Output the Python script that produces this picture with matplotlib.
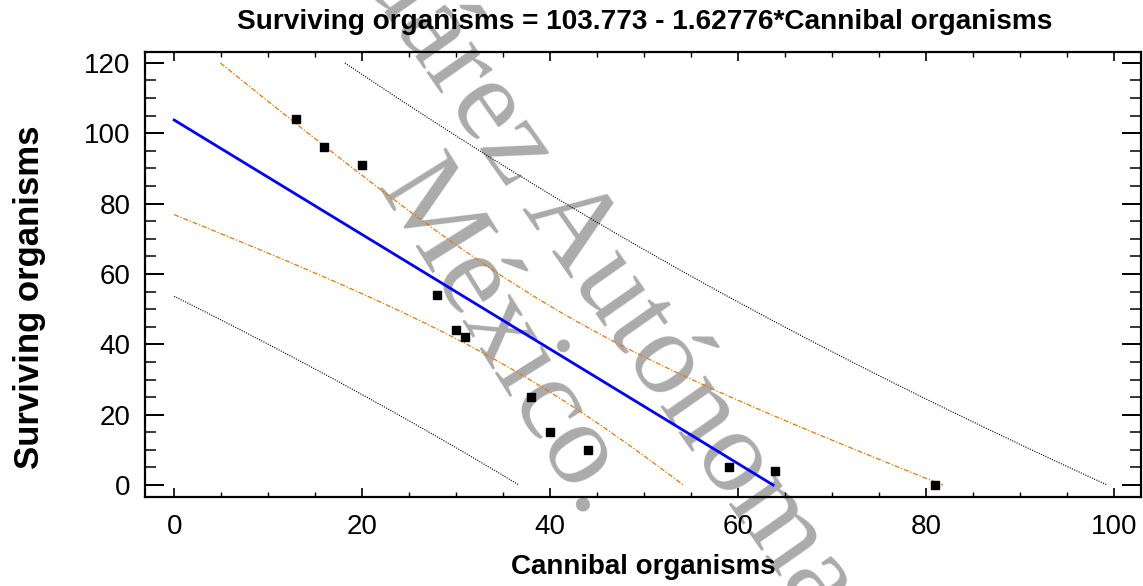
import numpy as np
import matplotlib
matplotlib.use("Agg")
import matplotlib.pyplot as plt
from matplotlib.ticker import MultipleLocator

# ---- data ----
cannibal = [13, 16, 20, 28, 30, 31, 38, 40, 44, 59, 64, 81]
surviving = [104, 96, 91, 54, 44, 42, 25, 15, 10, 5, 4, 0]
title_text = "Surviving organisms = 103.773 - 1.62776*Cannibal organisms"
x_label = "Cannibal organisms"
y_label = "Surviving organisms"
x_ticks = [0, 20, 40, 60, 80, 100]
y_ticks = [0, 20, 40, 60, 80, 100, 120]
t_crit = 2.228139  # t(0.975, df=10)

# ---- regression (simple linear) with 95% confidence and prediction limits ----
xd = np.asarray(cannibal, float)
yd = np.asarray(surviving, float)
n = len(xd)
slope, intercept = np.polyfit(xd, yd, 1)
resid = yd - (intercept + slope * xd)
s = np.sqrt(np.sum(resid ** 2) / (n - 2))
sxx = np.sum((xd - xd.mean()) ** 2)

xg = np.linspace(0, 100, 4001)
fit = intercept + slope * xg
se_m = s * np.sqrt(1.0 / n + (xg - xd.mean()) ** 2 / sxx)
se_p = s * np.sqrt(1.0 + 1.0 / n + (xg - xd.mean()) ** 2 / sxx)


def clip(v):
    v = v.copy()
    v[(v < 0) | (v > 120)] = np.nan
    return v


W, H = 1143, 586
fig = plt.figure(figsize=(W / 100, H / 100), dpi=100)
fig.patch.set_facecolor("white")
ax = fig.add_axes([145 / W, 1 - 497 / H, (1141 - 145) / W, (497 - 52) / H])
ax.set_facecolor("none")

# watermark (behind everything)
wm_kw = dict(family="Liberation Serif", color="#ababab", fontsize=86,
             rotation_mode="anchor", ha="center", va="center", zorder=-5)
fig.text(595 / W, 1 - 264 / H, "Juárez Autónoma", rotation=-55, **wm_kw)
fig.text(504 / W, 1 - 340 / H, "México.", rotation=-58, **wm_kw)

ax.plot(xg, clip(fit), color="#0000ff", lw=2.0, zorder=4)
ax.plot(xg, clip(fit + t_crit * se_m), color="#e87800", lw=0.9,
        linestyle=(0, (4, 1.5, 1, 1.5)), zorder=3)
ax.plot(xg, clip(fit - t_crit * se_m), color="#e87800", lw=0.9,
        linestyle=(0, (4, 1.5, 1, 1.5)), zorder=3)
ax.plot(xg, clip(fit + t_crit * se_p), color="black", lw=0.8,
        linestyle=(0, (1, 1.2)), zorder=3)
ax.plot(xg, clip(fit - t_crit * se_p), color="black", lw=0.8,
        linestyle=(0, (1, 1.2)), zorder=3)
ax.plot(xd, yd, linestyle="none", marker="s", color="black", ms=5.2, zorder=5)

ax.set_xlim(-3.1, 102.9)
ax.set_ylim(-3.4, 123.1)
ax.set_xticks(x_ticks)
ax.set_yticks(y_ticks)
ax.xaxis.set_minor_locator(MultipleLocator(5))
ax.yaxis.set_minor_locator(MultipleLocator(5))

for sp in ax.spines.values():
    sp.set_linewidth(1.6)

ax.tick_params(axis="x", which="major", direction="in", top=True, bottom=True,
               length=6.5, width=1.2, labelsize=20, pad=12)
ax.tick_params(axis="x", which="minor", direction="in", top=True, bottom=True,
               length=3.6, width=1.0)
ax.tick_params(axis="y", which="major", direction="in", left=True, right=True,
               length=14, width=1.4, labelsize=20, pad=10.5)
ax.tick_params(axis="y", which="minor", direction="in", left=True, right=True,
               length=8, width=1.1)
for lab in ax.get_xticklabels() + ax.get_yticklabels():
    lab.set_family("Liberation Sans")

fig.text(645 / W, 1 - 22 / H, title_text, ha="center", va="center",
         fontsize=20.2, fontweight="bold", family="Liberation Sans")
fig.text(643 / W, 1 - 567 / H, x_label, ha="center", va="center",
         fontsize=20, fontweight="bold", family="Liberation Sans")
fig.text(30 / W, 1 - 297 / H, y_label, ha="center", va="center", rotation=90,
         fontsize=25, fontweight="bold", family="Liberation Sans")

fig.savefig("out.png", dpi=100)
